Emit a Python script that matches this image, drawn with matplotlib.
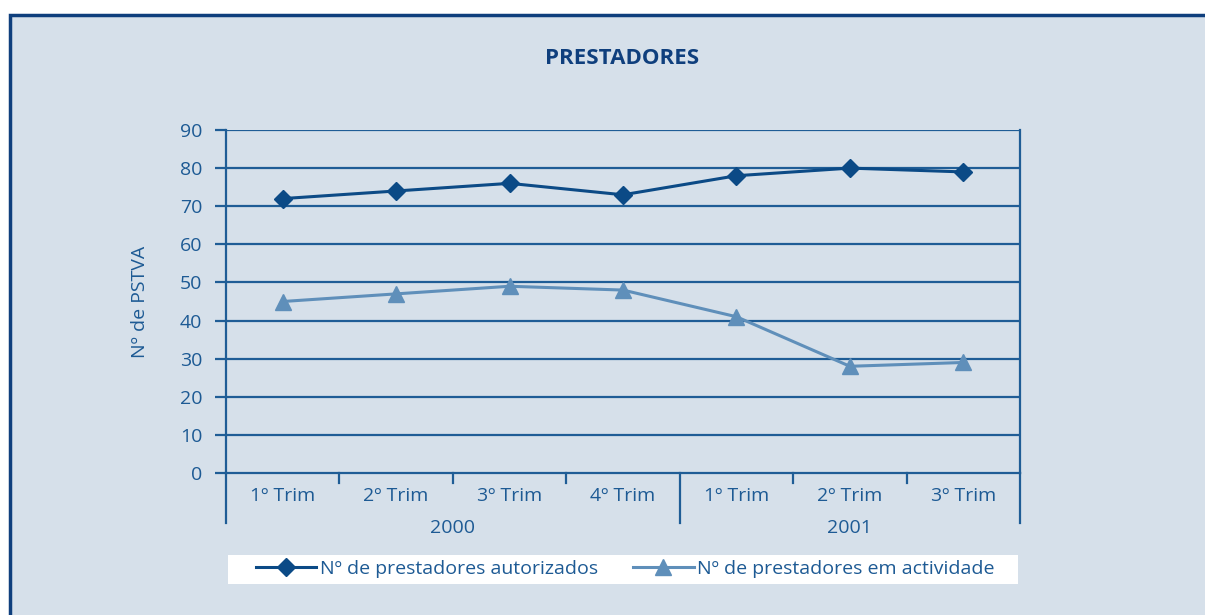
import matplotlib
matplotlib.use("Agg")
import matplotlib.pyplot as plt
from matplotlib.patches import Rectangle
from matplotlib.transforms import blended_transform_factory

# data
quarters = ["1º Trim", "2º Trim", "3º Trim", "4º Trim", "1º Trim", "2º Trim", "3º Trim"]
years = ["2000", "2001"]
year_sizes = [4, 3]
autorizados = [72, 74, 76, 73, 78, 80, 79]
em_actividade = [45, 47, 49, 48, 41, 28, 29]
series_labels = ["Nº de prestadores autorizados", "Nº de prestadores em actividade"]

plt.rcParams['font.family'] = ['Open Sans', 'DejaVu Sans']

bg = '#d6e0ea'
navy = '#0f3f7d'
dark = '#0b4a86'
light = '#5f8fba'
txt = '#1d5a94'
grid = '#1f5d96'
fs = 14

fig = plt.figure(figsize=(12.05, 6.15), dpi=100, facecolor='white')
W, H = 1205, 615

# outer panel with border on top and left
fig.patches.append(Rectangle((10 / W, -0.1), 1.1, 1 - 15 / H + 0.1,
                             transform=fig.transFigure, facecolor=bg,
                             edgecolor=navy, lw=2.5, zorder=-10))
# legend background
fig.patches.append(Rectangle((228 / W, 1 - 584 / H), 790 / W, 29 / H,
                             transform=fig.transFigure, facecolor='white',
                             edgecolor='none', zorder=-5))

ax = fig.add_axes([226 / W, 1 - 473 / H, (1020 - 226) / W, (473 - 130) / H])
ax.patch.set_alpha(0)

x = list(range(len(quarters)))
ax.set_xlim(-0.5, len(quarters) - 0.5)
ax.set_ylim(0, 90)
ax.set_yticks(range(0, 91, 10))
for yv in range(10, 91, 10):
    ax.axhline(yv, color=grid, lw=1.6, zorder=1)

ax.plot(x, autorizados, color=dark, lw=2.2, marker='D', ms=9, zorder=3,
        label=series_labels[0])
ax.plot(x, em_actividade, color=light, lw=2.2, marker='^', ms=11, zorder=3,
        label=series_labels[1])

ax.spines['top'].set_visible(False)
for s in ['left', 'right', 'bottom']:
    ax.spines[s].set_color(grid)
    ax.spines[s].set_linewidth(1.6)

ax.tick_params(axis='y', colors=grid, labelcolor=txt, labelsize=fs, length=8,
               width=1.6, pad=9)
ax.set_xticks([])

trans = blended_transform_factory(ax.transData, ax.transAxes)
# category labels
for xi, q in zip(x, quarters):
    ax.text(xi, -23 / 343, q, transform=trans, ha='center', va='center',
            fontsize=fs, color=txt)
# separators
bounds = [-0.5]
start = 0
for n in year_sizes:
    start += n
    bounds.append(start - 0.5)
for b in [i - 0.5 for i in range(len(quarters) + 1)]:
    depth = 50 / 343 if b in bounds else 10 / 343
    ax.plot([b, b], [0, -depth], transform=trans, color=grid, lw=1.6,
            clip_on=False)
start = 0
for yr, n in zip(years, year_sizes):
    ax.text(start + (n - 1) / 2, -55 / 343, yr, transform=trans, ha='center',
            va='center', fontsize=fs, color=txt)
    start += n

ax.set_ylabel("Nº de PSTVA", fontsize=fs, color=txt, labelpad=22)

fig.text(622 / W, 1 - 58 / H, "PRESTADORES", ha='center', va='center',
         fontsize=16, fontweight='bold', color=navy, fontstretch='condensed')

leg = fig.legend(loc='center left', ncol=2, frameon=False,
                 bbox_to_anchor=(256 / W, 1 - 569 / H),
                 borderaxespad=0, borderpad=0, handlelength=3.1,
                 handletextpad=0.2, columnspacing=1.8, fontsize=fs)
for t in leg.get_texts():
    t.set_color(txt)

fig.savefig("out.png", dpi=100, facecolor='white')
